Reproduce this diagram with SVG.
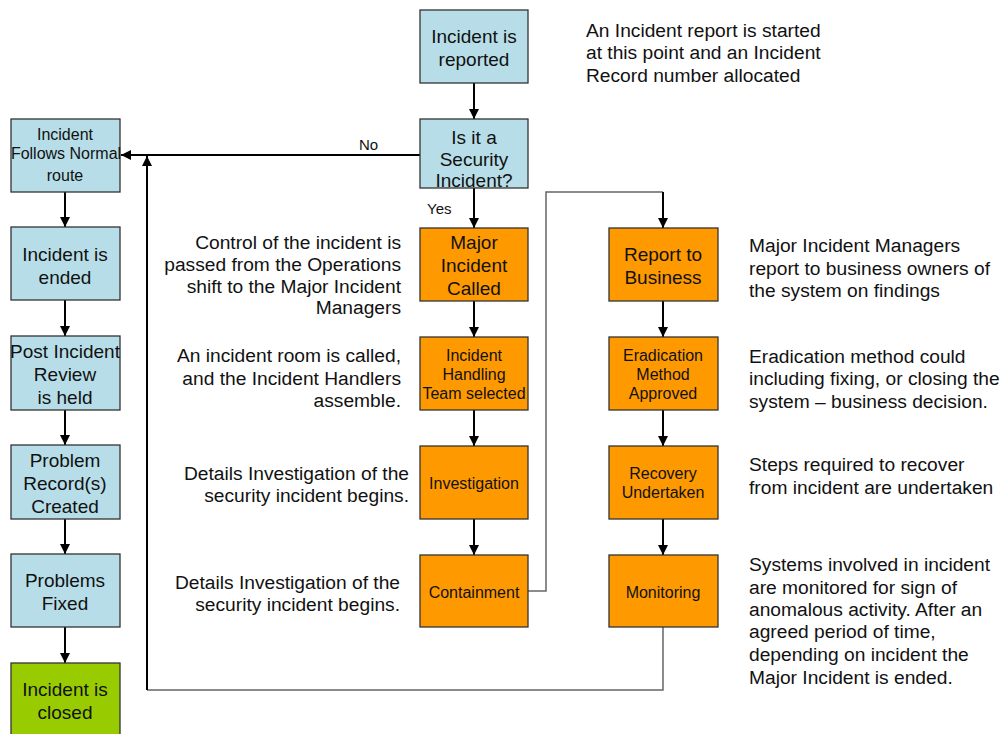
<svg xmlns="http://www.w3.org/2000/svg" width="1004" height="734" viewBox="0 0 1004 734">
<defs>
<marker id="ah" viewBox="0 0 10 10" refX="10" refY="5" markerWidth="5" markerHeight="5" orient="auto" markerUnits="strokeWidth">
<path d="M0,0 L10,5 L0,10 z" fill="#000"/>
</marker>
<style>
.blue{fill:#B7DEE8;stroke:#333;stroke-width:1.3}
.orange{fill:#FF9900;stroke:#333;stroke-width:1.3}
.green{fill:#99CC00;stroke:#333;stroke-width:1.3}
text{font-family:"Liberation Sans",Arial,sans-serif;fill:#111}
.l{font-size:19px;text-anchor:middle}
.s{font-size:16px;text-anchor:middle}
.a{font-size:19.2px}
.r{text-anchor:end}
.c{fill:none;stroke:#000;stroke-width:2}
.g{fill:none;stroke:#666;stroke-width:1.5}
</style>
</defs>
<rect width="1004" height="734" fill="#fff"/>
<g id="connectors">
<line class="c" x1="474" y1="83" x2="474" y2="119" marker-end="url(#ah)"/>
<line class="c" x1="420" y1="155" x2="121" y2="155" marker-end="url(#ah)"/>
<line class="c" x1="474" y1="188" x2="474" y2="228" marker-end="url(#ah)"/>
<line class="c" x1="474" y1="301" x2="474" y2="337" marker-end="url(#ah)"/>
<line class="c" x1="474" y1="410" x2="474" y2="446" marker-end="url(#ah)"/>
<line class="c" x1="474" y1="519" x2="474" y2="555" marker-end="url(#ah)"/>
<polyline class="g" points="528,591 546,591 546,192 663,192"/>
<line class="c" x1="663" y1="192" x2="663" y2="228" marker-end="url(#ah)"/>
<line class="c" x1="663" y1="301" x2="663" y2="337" marker-end="url(#ah)"/>
<line class="c" x1="663" y1="410" x2="663" y2="446" marker-end="url(#ah)"/>
<line class="c" x1="663" y1="519" x2="663" y2="555" marker-end="url(#ah)"/>
<polyline class="g" points="663,627 663,690 147,690"/>
<line class="c" x1="147" y1="690" x2="147" y2="156" marker-end="url(#ah)"/>
<line class="c" x1="65" y1="192" x2="65" y2="227" marker-end="url(#ah)"/>
<line class="c" x1="65" y1="300" x2="65" y2="336" marker-end="url(#ah)"/>
<line class="c" x1="65" y1="410" x2="65" y2="445" marker-end="url(#ah)"/>
<line class="c" x1="65" y1="519" x2="65" y2="554" marker-end="url(#ah)"/>
<line class="c" x1="65" y1="627" x2="65" y2="663" marker-end="url(#ah)"/>
<text x="359" y="150" font-size="15px">No</text>
<text x="427" y="214" font-size="15px">Yes</text>
</g>
<g id="reported"><rect class="blue" x="420" y="10" width="108" height="73"/><text class="l" x="474" y="43">Incident is</text><text class="l" x="474" y="66">reported</text></g>
<g id="security"><rect class="blue" x="420" y="119" width="108" height="69"/><text class="l" x="474" y="144">Is it a</text><text class="l" x="474" y="166">Security</text><text class="l" x="474" y="187">Incident?</text></g>
<g id="normal"><rect class="blue" x="11" y="119" width="109" height="73"/><text class="s" x="65" y="140">Incident</text><text class="s" x="66" y="159">Follows Normal</text><text class="s" x="65" y="181">route</text></g>
<g id="ended"><rect class="blue" x="11" y="227" width="109" height="73"/><text class="l" x="65" y="261">Incident is</text><text class="l" x="65" y="284">ended</text></g>
<g id="review"><rect class="blue" x="11" y="336" width="109" height="74"/><text class="l" x="65" y="358">Post Incident</text><text class="l" x="65" y="381">Review</text><text class="l" x="65" y="404">is held</text></g>
<g id="problem"><rect class="blue" x="11" y="445" width="109" height="74"/><text class="l" x="65" y="467">Problem</text><text class="l" x="65" y="490">Record(s)</text><text class="l" x="65" y="513">Created</text></g>
<g id="fixed"><rect class="blue" x="11" y="554" width="109" height="73"/><text class="l" x="65" y="587">Problems</text><text class="l" x="65" y="610">Fixed</text></g>
<g id="closed"><rect class="green" x="11" y="663" width="109" height="75"/><text class="l" x="65" y="696">Incident is</text><text class="l" x="65" y="719">closed</text></g>
<g id="major"><rect class="orange" x="420" y="228" width="108" height="73"/><text class="l" x="474" y="249">Major</text><text class="l" x="474" y="272">Incident</text><text class="l" x="474" y="295">Called</text></g>
<g id="handling"><rect class="orange" x="420" y="337" width="108" height="73"/><text class="s" x="474" y="361">Incident</text><text class="s" x="474" y="380">Handling</text><text class="s" x="474" y="399">Team selected</text></g>
<g id="investigation"><rect class="orange" x="420" y="446" width="108" height="73"/><text class="s" x="474" y="489">Investigation</text></g>
<g id="containment"><rect class="orange" x="420" y="555" width="108" height="72"/><text class="s" x="474" y="598">Containment</text></g>
<g id="report"><rect class="orange" x="609" y="228" width="109" height="73"/><text class="l" x="663" y="261">Report to</text><text class="l" x="663" y="284">Business</text></g>
<g id="eradication"><rect class="orange" x="609" y="337" width="109" height="73"/><text class="s" x="663" y="361">Eradication</text><text class="s" x="663" y="380">Method</text><text class="s" x="663" y="399">Approved</text></g>
<g id="recovery"><rect class="orange" x="609" y="446" width="109" height="73"/><text class="s" x="663" y="479">Recovery</text><text class="s" x="663" y="498">Undertaken</text></g>
<g id="monitoring"><rect class="orange" x="609" y="555" width="109" height="72"/><text class="s" x="663" y="598">Monitoring</text></g>
<g id="annotations">
<text class="a" x="586" y="37">An Incident report is started</text>
<text class="a" x="586" y="59">at this point and an Incident</text>
<text class="a" x="586" y="82">Record number allocated</text>
<text class="a r" x="401" y="249">Control of the incident is</text>
<text class="a r" x="401" y="271">passed from the Operations</text>
<text class="a r" x="401" y="293">shift to the Major Incident</text>
<text class="a r" x="401" y="314">Managers</text>
<text class="a r" x="401" y="362">An incident room is called,</text>
<text class="a r" x="401" y="385">and the Incident Handlers</text>
<text class="a r" x="401" y="407">assemble.</text>
<text class="a r" x="409" y="480">Details Investigation of the</text>
<text class="a r" x="409" y="502">security incident begins.</text>
<text class="a r" x="400" y="589">Details Investigation of the</text>
<text class="a r" x="400" y="611">security incident begins.</text>
<text class="a" x="749" y="252">Major Incident Managers</text>
<text class="a" x="749" y="275">report to business owners of</text>
<text class="a" x="749" y="297">the system on findings</text>
<text class="a" x="749" y="363">Eradication method could</text>
<text class="a" x="749" y="385">including fixing, or closing the</text>
<text class="a" x="749" y="408">system – business decision.</text>
<text class="a" x="749" y="471">Steps required to recover</text>
<text class="a" x="749" y="494">from incident are undertaken</text>
<text class="a" x="749" y="571">Systems involved in incident</text>
<text class="a" x="749" y="594">are monitored for sign of</text>
<text class="a" x="749" y="616">anomalous activity. After an</text>
<text class="a" x="749" y="638">agreed period of time,</text>
<text class="a" x="749" y="661">depending on incident the</text>
<text class="a" x="749" y="684">Major Incident is ended.</text>
</g>
</svg>
